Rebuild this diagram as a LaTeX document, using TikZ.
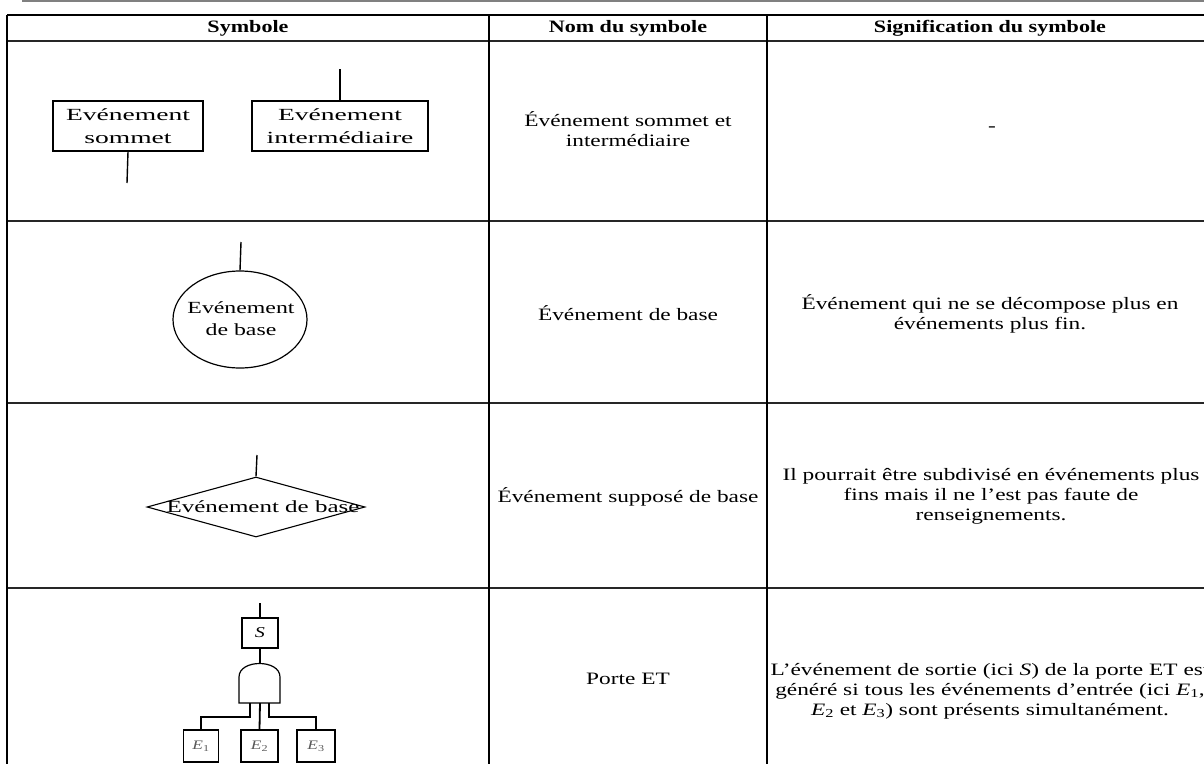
\documentclass[tikz,border=0pt]{standalone}
\usepackage{fontspec}
\setmainfont{Liberation Serif}[FakeStretch=1.34]
\newfontfamily\hdfont{Liberation Serif}[FakeStretch=1.27]
\newfontfamily\boxfont{Liberation Serif}[FakeStretch=1.62]
\newfontfamily\ellfont{Liberation Serif}[FakeStretch=1.4]
\newfontfamily\diafont{Liberation Serif}[FakeStretch=1.47]
\usetikzlibrary{shapes.geometric}

\begin{document}
\begin{tikzpicture}[x=1pt,y=-1pt,
  rule/.style={line width=1.4pt},
  hrule/.style={line width=1.3pt, black!85},
  link/.style={line width=1.4pt},
  body/.style={font=\fontsize{17.4}{20}\selectfont, align=center, inner sep=0},
  head/.style={font=\hdfont\bfseries\fontsize{17.4}{20}\selectfont, inner sep=0},
  evbox/.style={draw, line width=1.3pt, font=\boxfont\fontsize{17}{23}\selectfont,
    align=center, inner sep=0},
  leaf/.style={draw, line width=1.1pt, minimum width=35pt, minimum height=32pt,
    inner sep=0, font=\fontsize{13}{15}\selectfont, text=black!65}
]
\useasboundingbox (0,0) rectangle (1204,763);

% rule above the table
\draw[gray, line width=1.5pt] (22,1) -- (1210,1);
\draw[gray, line width=1pt] (412,0) -- (412,2) (985,0) -- (985,2);

% table grid
\draw[rule] (7,15) -- (1220,15);
\draw[hrule] (7,41) -- (1220,41);
\draw[hrule] (7,221) -- (1220,221);
\draw[hrule] (7,403) -- (1220,403);
\draw[hrule] (7,588) -- (1220,588);
\draw[rule] (7,15) -- (7,770);
\draw[rule] (489,15) -- (489,770);
\draw[rule] (767,15) -- (767,770);

% header
\node[head] (h1) at (248,28) {Symbole};
\node[head] (h2) at (628,28) {Nom du symbole};
\node[head] (h3) at (990,28) {Signification du symbole};

% row 1: top and intermediate events
\node[evbox, minimum width=150pt, minimum height=50pt] (som) at (128,126) {Evénement\\sommet};
\coordinate (somout) at (127,183);
\draw[link] (som.south) -- (somout);
\node[evbox, minimum width=176pt, minimum height=50pt] (inter) at (340,126) {Evénement\\intermédiaire};
\coordinate (interin) at (340,69);
\draw[link] (interin) -- (inter.north);
\node[body] (n1) at (628,129) {Événement sommet et\\intermédiaire};
\node[body] (s1) at (992,129) {-};

% row 2: basic event
\node[ellipse, draw, line width=1.2pt, minimum width=134pt, minimum height=97pt, inner sep=0] (ell) at (240,319.5) {};
\node[font=\ellfont\fontsize{17}{22}\selectfont, align=center, inner sep=0] (elltext) at (241,319) {Evénement\\de base};
\coordinate (ellin) at (241,242);
\draw[link] (ellin) -- (ell.north);
\node[body] (n2) at (628,313) {Événement de base};
\node[body] (s2) at (990,313.5) {Événement qui ne se décompose plus en\\événements plus fin.};

% row 3: assumed basic event
\node[diamond, draw, line width=1.1pt, minimum width=218pt, minimum height=60pt, aspect=3.63, inner sep=0] (dia) at (256,507) {};
\node[font=\diafont\fontsize{17}{20}\selectfont, inner sep=0] (diatext) at (263,507) {Evénement de base};
\coordinate (diain) at (257,455);
\draw[link] (diain) -- (dia.north);
\node[body] (n3) at (628,497) {Événement supposé de base};
\node[body] (s3) at (991,496) {Il pourrait être subdivisé en événements plus\\fins mais il ne l’est pas faute de\\renseignements.};

% row 4: AND gate
\node[draw, line width=1.1pt, minimum width=36pt, minimum height=30pt, inner sep=0, font=\fontsize{15}{17}\selectfont] (S) at (260,633) {\textit{S}};
\coordinate (Sin) at (260,603);
\draw[link] (Sin) -- (S.north);
\coordinate (gtop) at (260,663);
\coordinate (gbot) at (260,703);
\coordinate (gbl) at (250,703);
\coordinate (gbr) at (269,703);
\draw[line width=1.2pt] (239,703) -- (239,677) .. controls (239,659) and (280,659) .. (280,677) -- (280,703) -- cycle;
\draw[link] (S.south) -- (gtop);
\node[leaf] (E1) at (201,746) {\textit{E}\textsubscript{1}};
\node[leaf, minimum width=37pt] (E2) at (259.5,746) {\textit{E}\textsubscript{2}};
\node[leaf, minimum width=38pt] (E3) at (316,746) {\textit{E}\textsubscript{3}};
\draw[line width=1.8pt] (gbot) -- (E2.north);
\draw[link] (gbl) -- (250,717) -| (E1.north);
\draw[link] (gbr) -- (269,717) -| (E3.north);
\node[body] (n4) at (628,679) {Porte ET};
\node[body] (s4) at (990,691) {L’événement de sortie (ici \textit{S}) de la porte ET est\\généré si tous les événements d’entrée (ici \textit{E}\textsubscript{1},\\\textit{E}\textsubscript{2} et \textit{E}\textsubscript{3}) sont présents simultanément.};
\end{tikzpicture}
\end{document}
